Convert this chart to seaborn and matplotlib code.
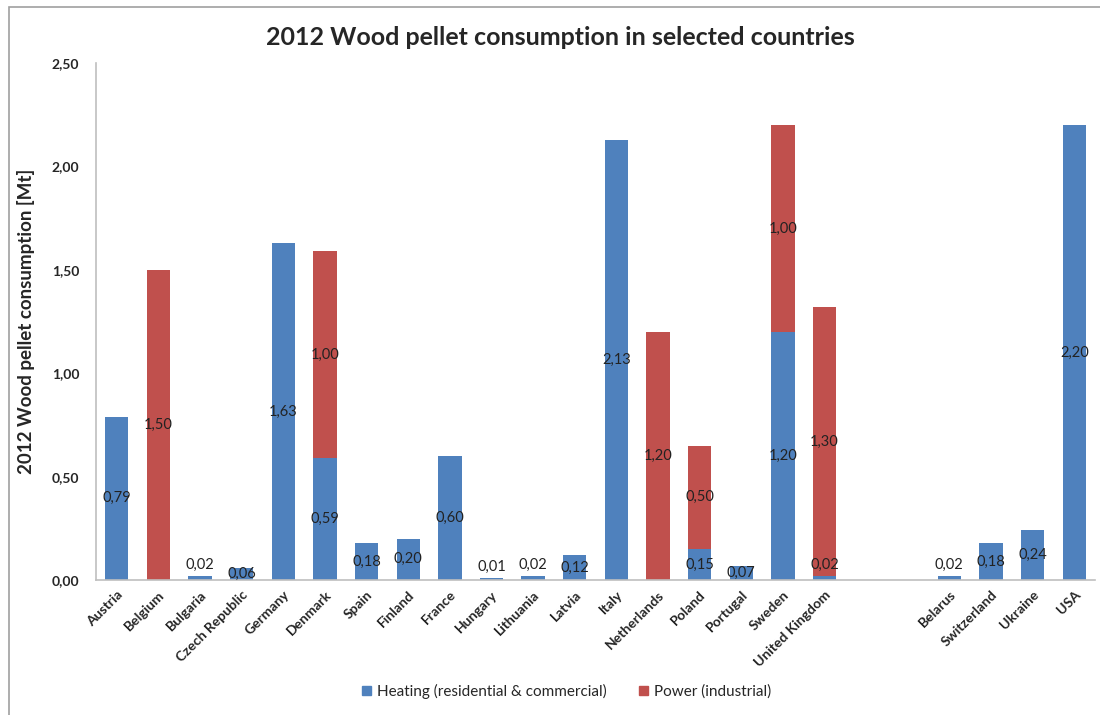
import matplotlib
matplotlib.use("Agg")
import matplotlib.pyplot as plt
import seaborn as sns
import pandas as pd
from matplotlib.patches import Rectangle, Patch

# Data (blank entries are the gap between groups)
countries = ["Austria", "Belgium", "Bulgaria", "Czech Republic", "Germany", "Denmark",
             "Spain", "Finland", "France", "Hungary", "Lithuania", "Latvia", "Italy",
             "Netherlands", "Poland", "Portugal", "Sweden", "United Kingdom",
             " ", "  ", "Belarus", "Switzerland", "Ukraine", "USA"]
heating = [0.79, 0.00, 0.02, 0.06, 1.63, 0.59, 0.18, 0.20, 0.60, 0.01, 0.02, 0.12, 2.13,
           0.00, 0.15, 0.07, 1.20, 0.02, 0.00, 0.00, 0.02, 0.18, 0.24, 2.20]
power = [0.00, 1.50, 0.00, 0.00, 0.00, 1.00, 0.00, 0.00, 0.00, 0.00, 0.00, 0.00, 0.00,
         1.20, 0.50, 0.00, 1.00, 1.30, 0.00, 0.00, 0.00, 0.00, 0.00, 0.00]
yticks = [0.0, 0.5, 1.0, 1.5, 2.0, 2.5]

BLUE = "#4F81BD"
RED = "#C0504D"


def fmt(v):
    return f"{v:.2f}".replace(".", ",")


def main():
    sns.set_theme(style="white")
    plt.rcParams['font.family'] = ['Lato', 'DejaVu Sans']

    df = pd.DataFrame({"country": countries, "heating": heating, "power": power})
    df["total"] = df["heating"] + df["power"]

    fig = plt.figure(figsize=(11, 7.15), dpi=100)
    ax = fig.add_axes([0.0873, 0.1888, 0.9082, 0.7231])

    # stacked bars: total in red, heating drawn over it in blue
    sns.barplot(data=df, x="country", y="total", order=countries, color=RED,
                saturation=1, width=0.56, linewidth=0, ax=ax)
    sns.barplot(data=df, x="country", y="heating", order=countries, color=BLUE,
                saturation=1, width=0.56, linewidth=0, ax=ax)

    # value labels
    lab = dict(fontsize=10.5, color="#222222", ha="center")
    for i, (h, p) in enumerate(zip(heating, power)):
        if h > 0:
            if h < 0.05:
                ax.text(i, h + 0.02, fmt(h), va="bottom", **lab)
            else:
                ax.text(i, h / 2, fmt(h), va="center", **lab)
        if p > 0:
            ax.text(i, h + p / 2, fmt(p), va="center", **lab)

    ax.set_ylim(0, 2.5)
    ax.set_xlim(-0.5, len(countries) - 0.5)
    ax.set_yticks(yticks)
    ax.set_yticklabels([fmt(t) for t in yticks], fontsize=10, fontweight="bold")
    ax.set_xticks(range(len(countries)))
    ax.set_xticklabels(countries, rotation=45, ha="right", rotation_mode="anchor",
                       fontsize=10, fontweight="bold")
    ax.tick_params(axis="y", length=0, pad=12)
    ax.tick_params(axis="x", length=0, pad=6)
    ax.set_xlabel("")
    ax.set_ylabel("2012 Wood pellet consumption [Mt]", fontsize=13.5, fontweight="bold", labelpad=12)

    for side in ["top", "right"]:
        ax.spines[side].set_visible(False)
    for side in ["left", "bottom"]:
        ax.spines[side].set_color("#BFBFBF")
        ax.spines[side].set_linewidth(1.2)

    fig.text(0.509, 0.947, "2012 Wood pellet consumption in selected countries",
             ha="center", va="center", fontsize=18, fontweight="bold")

    handles = [Patch(color=BLUE, label="Heating (residential & commercial)"),
               Patch(color=RED, label="Power (industrial)")]
    fig.legend(handles=handles, loc="center", bbox_to_anchor=(0.515, 0.033), ncol=2,
               frameon=False, fontsize=11, handlelength=0.6, handleheight=0.6,
               columnspacing=2.1, handletextpad=0.4)

    # outer chart border
    fig.patches.append(Rectangle((0.008, -0.01), 1.0, 1.0, transform=fig.transFigure,
                                 fill=False, edgecolor="#A0A0A0", linewidth=1.2))

    fig.savefig("out.png", dpi=100)
    plt.close(fig)


if __name__ == "__main__":
    main()
